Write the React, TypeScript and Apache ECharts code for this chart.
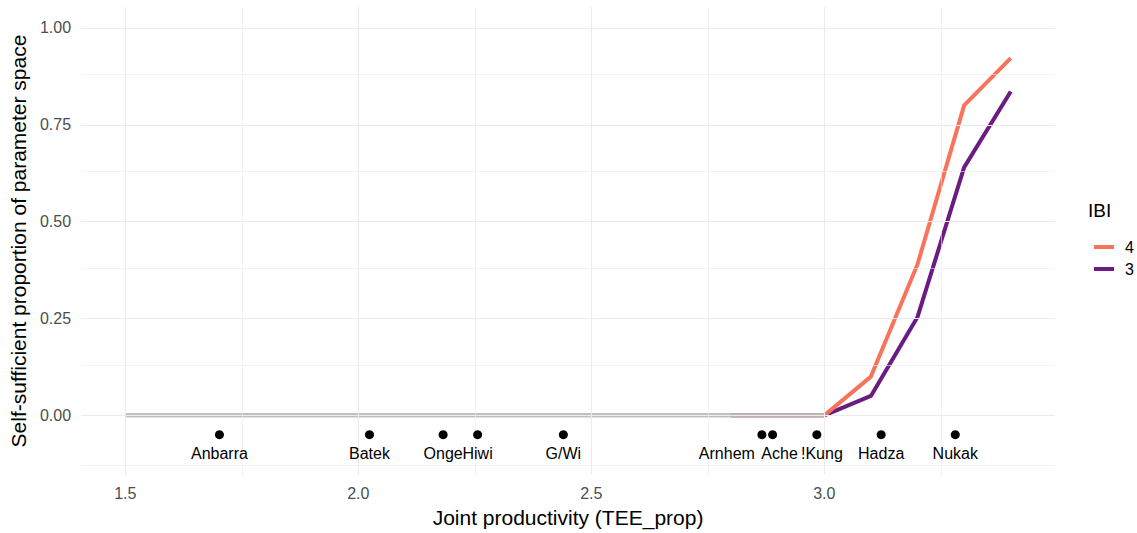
import React, { useEffect, useRef } from "react";
import * as echarts from "echarts";

// Joint productivity grid (TEE_prop) and self-sufficient proportions per IBI
const baseX = [1.5, 1.6, 1.7, 1.8, 1.9, 2.0, 2.1, 2.2, 2.3, 2.4, 2.5, 2.6, 2.7, 2.8, 2.9, 3.0];
const baseY = [0, 0, 0, 0, 0, 0, 0, 0, 0, 0, 0, 0, 0, 0, 0, 0];
const ibiX = [2.8, 2.9, 3.0, 3.1, 3.2, 3.3, 3.4];
const ibi4 = [0, 0, 0, 0.1, 0.39, 0.8, 0.922];
const ibi3 = [0, 0, 0, 0.05, 0.254, 0.64, 0.836];

// Populations placed along the productivity axis
const popNames = ["Anbarra", "Batek", "Onge", "Hiwi", "G/Wi", "Arnhem", "Ache", "!Kung", "Hadza", "Nukak"];
const popX = [1.702, 2.024, 2.182, 2.256, 2.44, 2.866, 2.889, 2.984, 3.122, 3.281];
const popY = -0.05;
// Horizontal label nudges (px) that keep crowded names apart
const labelNudge = [0, 0, 0, 0, 0, -35, 7, 5, 0, 0];

const xTicks = [1.5, 2.0, 2.5, 3.0];
const xMinor = [1.75, 2.25, 2.75, 3.25];
const yTicks = [0, 0.25, 0.5, 0.75, 1.0];
const yMinor = [-0.125, 0.125, 0.375, 0.625, 0.875];

const FONT = "'Liberation Sans', Arial, Helvetica, sans-serif";
const ORANGE = "#F7735C";
const PURPLE = "#6A1C81";

export default function App() {
  const ref = useRef<HTMLDivElement>(null);

  useEffect(() => {
    if (!ref.current) return;
    const chart = echarts.init(ref.current, undefined, { renderer: "svg" });

    const gridLines = [
      ...xTicks.map((v) => ({ xAxis: v, lineStyle: { color: "#EBEBEB", width: 1.1, type: "solid" } })),
      ...xMinor.map((v) => ({ xAxis: v, lineStyle: { color: "#EBEBEB", width: 0.6, type: "solid" } })),
      ...yTicks.map((v) => ({ yAxis: v, lineStyle: { color: "#EBEBEB", width: 1.1, type: "solid" } })),
      ...yMinor.map((v) => ({ yAxis: v, lineStyle: { color: "#EBEBEB", width: 0.6, type: "solid" } })),
    ];

    chart.setOption({
      animation: false,
      backgroundColor: "#ffffff",
      grid: { left: 79, right: 82, top: 7, bottom: 56, containLabel: false },
      xAxis: {
        type: "value",
        min: 1.405,
        max: 3.495,
        name: "Joint productivity (TEE_prop)",
        nameLocation: "middle",
        nameGap: 32,
        nameTextStyle: { fontFamily: FONT, fontSize: 21, color: "#000" },
        axisLine: { show: false },
        axisTick: { show: false },
        splitLine: { show: false },
        axisLabel: {
          customValues: xTicks,
          formatter: (v: number) => v.toFixed(1),
          fontFamily: FONT,
          fontSize: 16,
          color: "#4D4D4D",
          margin: 10,
        },
      },
      yAxis: {
        type: "value",
        min: -0.154,
        max: 1.054,
        name: "Self-sufficient proportion of parameter space",
        nameLocation: "middle",
        nameRotate: 90,
        nameGap: 49,
        nameTextStyle: { fontFamily: FONT, fontSize: 21, color: "#000" },
        axisLine: { show: false },
        axisTick: { show: false },
        splitLine: { show: false },
        axisLabel: {
          customValues: yTicks,
          formatter: (v: number) => v.toFixed(2),
          fontFamily: FONT,
          fontSize: 16,
          color: "#4D4D4D",
          margin: 10,
        },
      },
      legend: {
        orient: "vertical",
        left: 1089,
        top: 234,
        data: ["4", "3"],
        icon: "rect",
        itemWidth: 20,
        itemHeight: 4,
        itemGap: 6,
        textStyle: { fontFamily: FONT, fontSize: 16, color: "#000", padding: [0, 0, 0, 6] },
      },
      graphic: [
        {
          type: "text",
          left: 1088,
          top: 201,
          style: { text: "IBI", fontFamily: FONT, fontSize: 19, fill: "#000" },
        },
      ],
      series: [
        {
          name: "grid",
          type: "line",
          data: [],
          silent: true,
          z: 0,
          markLine: {
            silent: true,
            symbol: "none",
            label: { show: false },
            animation: false,
            data: gridLines,
          },
        },
        {
          name: "3",
          type: "line",
          data: ibiX.map((x, i) => [x, ibi3[i]]),
          showSymbol: false,
          symbol: "none",
          color: PURPLE,
          lineStyle: { color: PURPLE, width: 4 },
          z: 2,
        },
        {
          name: "4",
          type: "line",
          data: ibiX.map((x, i) => [x, ibi4[i]]),
          showSymbol: false,
          symbol: "none",
          color: ORANGE,
          lineStyle: { color: ORANGE, width: 4 },
          z: 3,
        },
        {
          name: "baseline",
          type: "line",
          data: baseX.map((x, i) => [x, baseY[i]]),
          showSymbol: false,
          symbol: "none",
          lineStyle: { color: "rgba(185,185,185,0.9)", width: 4.5 },
          z: 4,
        },
        {
          name: "populations",
          type: "scatter",
          data: popX.map((x, i) => ({
            value: [x, popY],
            name: popNames[i],
            label: { offset: [labelNudge[i], 0] },
          })),
          symbol: "circle",
          symbolSize: 9,
          itemStyle: { color: "#000", opacity: 1 },
          label: {
            show: true,
            position: "bottom",
            distance: 6,
            formatter: (p: any) => p.name,
            fontFamily: FONT,
            fontSize: 16,
            color: "#000",
          },
          z: 5,
        },
      ],
    });

    return () => chart.dispose();
  }, []);

  return (
    <div
      ref={ref}
      style={{ position: "fixed", left: 0, top: 0, width: 1137, height: 533, background: "#fff" }}
    />
  );
}
